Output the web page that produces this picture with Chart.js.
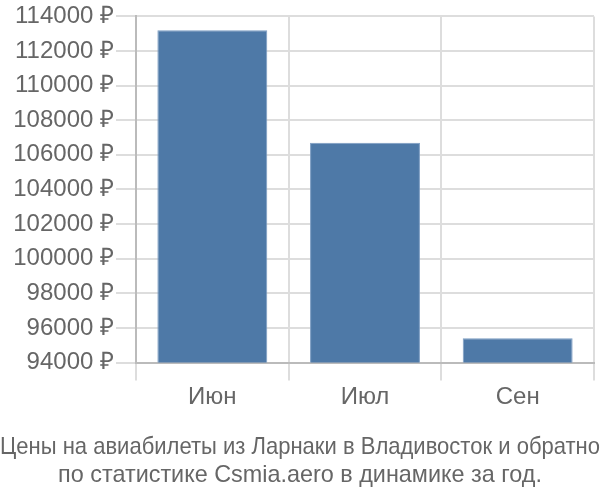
<!DOCTYPE html>
<html>
<head>
<meta charset="utf-8">
<script src="https://cdn.jsdelivr.net/npm/chart.js@4"></script>
<style>
  html, body { margin: 0; padding: 0; background: #fff; }
  #wrap { width: 600px; height: 500px; }
</style>
</head>
<body>
<div id="wrap"><canvas id="priceChart"></canvas></div>
<script>
const months = ['Июн', 'Июл', 'Сен'];
const prices = [113200, 106700, 95400];
const titleLines = [
    'Цены на авиабилеты из Ларнаки в Владивосток и обратно',
    'по статистике Csmia.aero в динамике за год.'
];

document.addEventListener('DOMContentLoaded', function () {
    const ctx = document.getElementById('priceChart').getContext('2d');

    new Chart(ctx, {
        type: 'bar',
        data: {
            labels: months,
            datasets: [{
                data: prices,
                backgroundColor: '#4e79a7',
                borderColor: '#7b9cc2',
                borderWidth: 1
            }]
        },
        options: {
            responsive: true,
            maintainAspectRatio: false,
            animation: false,
            layout: { padding: 0 },
            plugins: {
                legend: { display: false },
                tooltip: { enabled: false },
                title: {
                    display: true,
                    position: 'bottom',
                    text: titleLines,
                    color: '#666',
                    font: { family: 'Liberation Sans, Arial', size: 23.4, weight: 'normal', lineHeight: 1.19 },
                    padding: { top: 20, bottom: 11 }
                }
            },
            scales: {
                x: {
                    grid: { color: '#ddd', lineWidth: 2, tickLength: 18 },
                    border: { color: '#bbb', width: 2 },
                    ticks: {
                        color: '#666',
                        font: { family: 'Liberation Sans, Arial', size: 24 },
                        padding: 2
                    }
                },
                y: {
                    min: 94000,
                    max: 114000,
                    afterFit: function (scale) { scale.width = 136; },
                    grid: { color: '#ddd', lineWidth: 2, tickLength: 20 },
                    border: { color: '#bbb', width: 2 },
                    ticks: {
                        stepSize: 2000,
                        color: '#666',
                        font: { family: 'Liberation Sans, Arial', size: 24 },
                        padding: 2,
                        callback: function (value) { return value + ' ₽'; }
                    }
                },
                // empty strip on the right so the plot ends a few px before the edge
                gap: {
                    type: 'linear',
                    position: 'right',
                    afterFit: function (scale) { scale.width = 6; },
                    grid: { display: false },
                    border: { display: false },
                    ticks: { display: false }
                }
            }
        }
    });
});
</script>
</body>
</html>
